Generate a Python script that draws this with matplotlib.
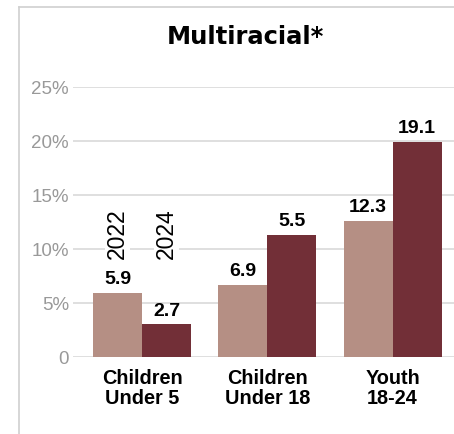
import matplotlib.pyplot as plt
from matplotlib.lines import Line2D
import numpy as np

plt.rcParams['font.family'] = ['Liberation Sans', 'DejaVu Sans']

categories = ["Children\nUnder 5", "Children\nUnder 18", "Youth\n18-24"]
years = ["2022", "2024"]
# bar heights as drawn in the picture (percent)
heights_2022 = [5.95, 6.65, 12.6]
heights_2024 = [3.0, 11.3, 19.9]
# labels printed above the bars
labels_2022 = ["5.9", "6.9", "12.3"]
labels_2024 = ["2.7", "5.5", "19.1"]
yticks = [0, 5, 10, 15, 20, 25]
ytick_labels = ["0", "5%", "10%", "15%", "20%", "25%"]

light = "#B58F84"
dark = "#722F37"
grid = "#D9D9D9"

fig = plt.figure(figsize=(4.54, 4.35), dpi=100)
ax = fig.add_axes([73 / 454, 77.3 / 435, 381 / 454, 269.7 / 435])

x = np.arange(len(categories))
w = 0.391
b1 = ax.bar(x - w / 2, heights_2022, w, color=light, zorder=3)
b2 = ax.bar(x + w / 2, heights_2024, w, color=dark, zorder=3)

for bars, labs in [(b1, labels_2022), (b2, labels_2024)]:
    for r, lab in zip(bars, labs):
        ax.annotate(lab, (r.get_x() + r.get_width() / 2, r.get_height()),
                    xytext=(0, 4), textcoords="offset points",
                    ha="center", va="bottom", fontsize=14, fontweight="bold", zorder=4)

# year labels above first group
for dx, yr in zip([-w / 2, w / 2], years):
    ax.text(dx, 11.46, yr, rotation=90, ha="center", va="center", fontsize=16.5,
            bbox=dict(facecolor="white", edgecolor="none", pad=1), zorder=4)

ax.set_xlim(-0.551, 2.49)
ax.set_ylim(0, 25)
ax.set_yticks(yticks)
ax.set_yticklabels(ytick_labels, color="#999999", fontsize=13.5)
ax.set_xticks(x)
ax.set_xticklabels(categories, fontsize=14.3, fontweight="bold", linespacing=1.1)
ax.tick_params(axis="y", length=0, pad=3)
ax.tick_params(axis="x", length=0, pad=8)
ax.yaxis.grid(True, color=grid, linewidth=1.2, zorder=0)
for s in ax.spines.values():
    s.set_visible(False)

ax.set_title("Multiracial*", fontsize=17.5, fontweight="bold", family="DejaVu Sans",
             x=(245 - 73) / 381, y=1.0, pad=32)

# outer frame
fig.add_artist(Line2D([19 / 454, 19 / 454], [0, 1 - 8 / 435], color="#D0D0D0", lw=1.2))
fig.add_artist(Line2D([19 / 454, 1], [1 - 8 / 435, 1 - 8 / 435], color="#D0D0D0", lw=1.2))

fig.savefig("out.png", dpi=100)
